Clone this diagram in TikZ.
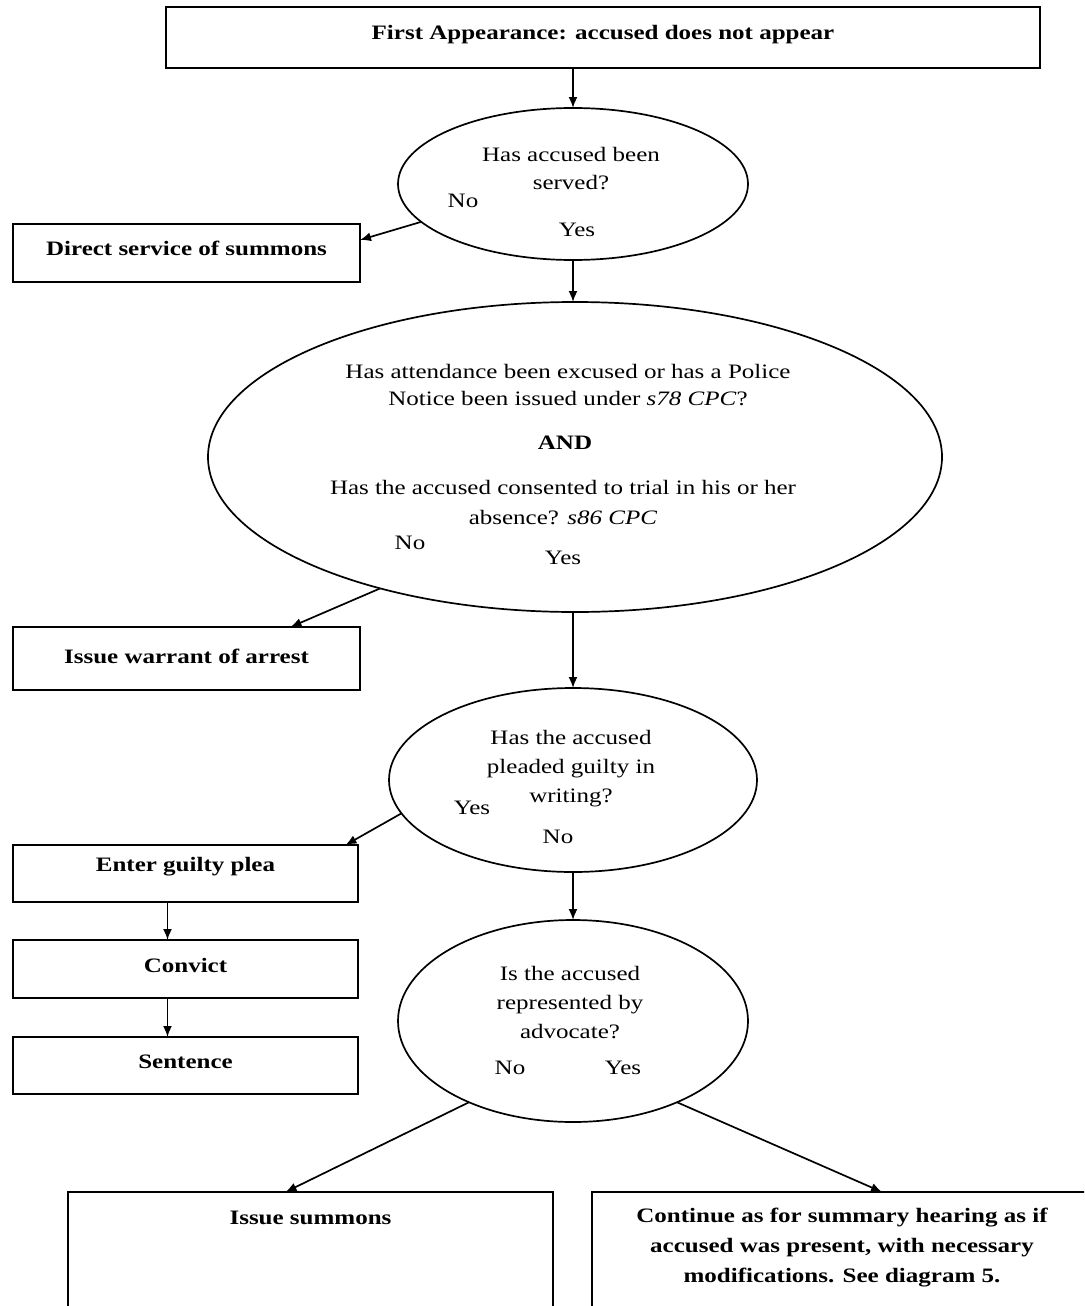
\documentclass[tikz,border=0pt]{standalone}
\usepackage{fontspec}
\setmainfont{Liberation Serif}[FakeStretch=1.22]
\usetikzlibrary{shapes.geometric,arrows.meta,calc}
\begin{document}
\begin{tikzpicture}[x=1pt,y=-1pt,
  txt/.style={font=\fontsize{20.5}{28}\selectfont, align=center, inner sep=0pt},
  btxt/.style={font=\fontsize{20.5}{30}\selectfont\bfseries, align=center, inner sep=0pt},
  box/.style={draw, line width=1.9pt, rectangle, inner sep=0pt, outer sep=0pt},
  ell/.style={draw, line width=1.7pt, ellipse, inner sep=0pt, outer sep=0pt},
  arr/.style={line width=1.7pt, -{Latex[length=11pt,width=9pt]}}]
\useasboundingbox (0,0) rectangle (1084,1306);
\clip (0,0) rectangle (1084,1306);
% top box
\node[box, minimum width=874pt, minimum height=61pt] (t) at (603,37.5) {};
\node[btxt] (tt) at (603,35) {First Appearance: accused does not appear};
% ellipse 1
\node[ell, minimum width=350pt, minimum height=152pt] (e1) at (573,184) {};
\node[txt] (q1) at (571,169) {Has accused been\\served?};
\node[txt] (n1) at (463,201) {No};
\node[txt] (y1) at (577,230) {Yes};
% box 2
\node[box, minimum width=347pt, minimum height=58pt] (b2) at (186.5,253) {};
\node[btxt] (b2t) at (186.5,248) {Direct service of summons};
% ellipse 2
\node[ell, minimum width=734pt, minimum height=310pt] (e2) at (575,457) {};
\node[txt, font=\fontsize{20.5}{27}\selectfont] (q2a) at (568,385) {Has attendance been excused or has a Police\\Notice been issued under \textit{s78 CPC}?};
\node[btxt] (and) at (565,443) {AND};
\node[txt, font=\fontsize{20.5}{30}\selectfont] (q2b) at (563,503) {Has the accused consented to trial in his or her\\absence? \textit{s86 CPC}};
\node[txt] (n2) at (410,543) {No};
\node[txt] (y2) at (563,558) {Yes};
% box 3
\node[box, minimum width=347pt, minimum height=63pt] (b3) at (186.5,658.5) {};
\node[btxt] (b3t) at (186.5,656) {Issue warrant of arrest};
% ellipse 3
\node[ell, minimum width=368pt, minimum height=184pt] (e3) at (573,780) {};
\node[txt, font=\fontsize{20.5}{29}\selectfont] (q3) at (571,769) {Has the accused\\pleaded guilty in\\writing?};
\node[txt] (y3) at (472,808) {Yes};
\node[txt] (n3) at (558,837) {No};
% left chain
\node[box, minimum width=345pt, minimum height=57pt] (b4) at (185.5,873.5) {};
\node[btxt] (b4t) at (185.5,867) {Enter guilty plea};
\node[box, minimum width=345pt, minimum height=58pt] (b5) at (185.5,969) {};
\node[btxt] (b5t) at (185.5,965) {Convict};
\node[box, minimum width=345pt, minimum height=57pt] (b6) at (185.5,1065.5) {};
\node[btxt] (b6t) at (185.5,1062) {Sentence};
% ellipse 4
\node[ell, minimum width=350pt, minimum height=202pt] (e4) at (573,1021) {};
\node[txt, font=\fontsize{20.5}{29}\selectfont] (q4) at (570,1003) {Is the accused\\represented by\\advocate?};
\node[txt] (n4) at (510,1068) {No};
\node[txt] (y4) at (623,1068) {Yes};
% bottom boxes
\node[box, minimum width=485pt, minimum height=160pt, anchor=north] (b7) at (310.5,1192) {};
\node[btxt] (b7t) at (310.5,1218) {Issue summons};
\node[box, minimum width=500pt, minimum height=160pt, anchor=north] (b8) at (842,1192) {};
\node[btxt] (b8t) at (842,1248) {Continue as for summary hearing as if\\accused was present, with necessary\\modifications. See diagram 5.};
% connectors
\draw[arr] (e1.north |- t.south) -- (e1.north);
\draw[arr] (e1.194) -- ($(b2.east)+(0,-13)$);
\draw[arr] (e1.south) -- (e1.south |- e2.north);
\draw[arr] (e2.214) -- ($(b3.north)+(104,0)$);
\draw[arr] (e3.north |- e2.south) -- (e3.north);
\draw[arr] (e3.191) -- ($(b4.north)+(160,0)$);
\draw[arr] ($(b4.south)+(-18,0)$) -- ($(b5.north)+(-18,0)$);
\draw[arr] ($(b5.south)+(-18,0)$) -- ($(b6.north)+(-18,0)$);
\draw[arr] (e3.south) -- (e4.north);
\draw[arr] (e4.218) -- ($(b7.north)+(-25,0)$);
\draw[arr] (e4.322) -- ($(b8.north)+(40,0)$);
\end{tikzpicture}
\end{document}
